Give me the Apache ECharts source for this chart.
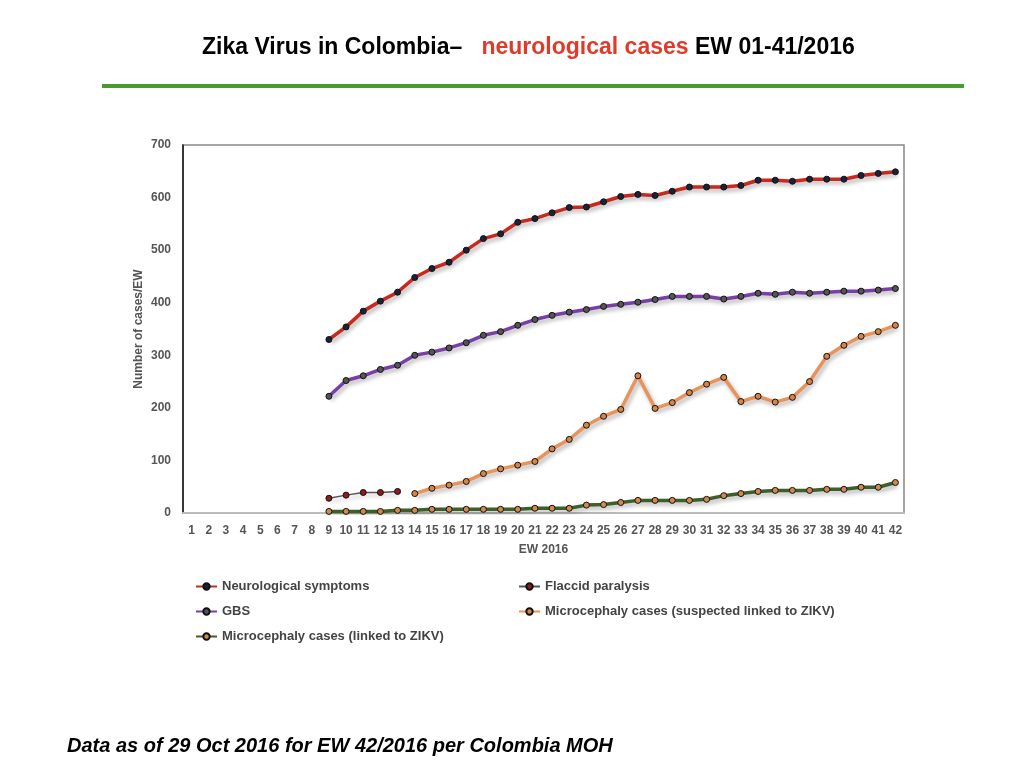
<!DOCTYPE html>
<html>
<head>
<meta charset="utf-8">
<script src="https://cdn.jsdelivr.net/npm/echarts@6/dist/echarts.min.js"></script>
<style>
  html, body { margin: 0; padding: 0; background: #fff; }
  #main { width: 1024px; height: 768px; }
</style>
</head>
<body>
<div id="main"></div>
<script>
// epidemiological weeks 1..42
var weeks = [];
for (var w = 1; w <= 42; w++) weeks.push(String(w));

var yTicks = [0, 100, 200, 300, 400, 500, 600, 700];

// weeks 1-8 have no data
var neuroSymptoms = [null, null, null, null, null, null, null, null,
    330, 354, 384, 403, 420, 448, 465, 477, 500, 522, 531, 553, 560,
    571, 581, 582, 592, 602, 606, 604, 612, 620, 620, 620, 623, 633,
    633, 631, 635, 635, 635, 642, 646, 649];

var flaccidParalysis = [null, null, null, null, null, null, null, null,
    28, 34, 39, 39, 41];

var gbs = [null, null, null, null, null, null, null, null,
    222, 252, 261, 273, 281, 300, 306, 314, 324, 338, 345, 357, 368,
    376, 382, 387, 393, 397, 401, 406, 412, 412, 412, 407, 412, 418,
    416, 420, 418, 420, 422, 422, 424, 427];

var microSuspected = [null, null, null, null, null, null, null, null,
    null, null, null, null, null,
    37, 47, 53, 60, 75, 84, 91, 98,
    122, 140, 167, 184, 197, 261, 199, 210, 229, 245, 258, 212, 222,
    211, 220, 250, 298, 319, 336, 345, 357];

var microLinked = [null, null, null, null, null, null, null, null,
    3, 3, 3, 3, 5, 5, 7, 7, 7, 7, 7, 7, 9,
    9, 9, 15, 16, 20, 24, 24, 24, 24, 26, 33, 37, 41,
    43, 43, 43, 45, 45, 49, 49, 58];

var chart = echarts.init(document.getElementById('main'));

function make_line(name, data, lineColor, dotColor, width){
    return {
        name: name,
        type: 'line',
        data: data,
        connectNulls: false,
        symbol: 'circle',
        symbolSize: 6,
        itemStyle: {
            color: dotColor,
            borderColor: '#111',
            borderWidth: 1
        },
        lineStyle: {
            color: lineColor,
            width: width,
            shadowColor: 'rgba(0,0,0,0.3)',
            shadowBlur: 4,
            shadowOffsetX: 2,
            shadowOffsetY: 3
        },
        emphasis: { disabled: true },
        animation: false
    };
}

var legendText = { color: '#444', fontSize: 13, fontWeight: 'bold', fontFamily: 'Liberation Sans', lineHeight: 15 };

var option = {
    backgroundColor: '#fff',
    title: [{
        text: '{b|Zika Virus in Colombia\u2013   }{r|neurological cases}{b| EW 01-41/2016}',
        left: 197,
        top: 31,
        textStyle: {
            rich: {
                b: { color: '#000', fontSize: 23, fontWeight: 'bold', fontFamily: 'Liberation Sans' },
                r: { color: '#e03a28', fontSize: 23, fontWeight: 'bold', fontFamily: 'Liberation Sans' }
            }
        }
    }, {
        text: 'Data as of 29 Oct 2016 for EW 42/2016 per Colombia MOH',
        left: 62,
        top: 731,
        textStyle: {
            color: '#000', fontSize: 20, fontWeight: 'bold', fontStyle: 'italic',
            fontFamily: 'Liberation Sans'
        }
    }],
    graphic: [{
        type: 'line',
        shape: { x1: 102, y1: 86, x2: 964, y2: 86 },
        style: { stroke: '#4a9a32', lineWidth: 4 }
    }],
    legend: [{
        orient: 'vertical',
        left: 195,
        top: 579,
        padding: 0,
        itemGap: 10,
        itemWidth: 21,
        itemHeight: 8,
        textStyle: legendText,
        data: ['Neurological symptoms', 'GBS', 'Microcephaly cases (linked to ZIKV)']
    }, {
        orient: 'vertical',
        left: 518,
        top: 579,
        padding: 0,
        itemGap: 10,
        itemWidth: 21,
        itemHeight: 8,
        textStyle: legendText,
        data: ['Flaccid paralysis', 'Microcephaly cases (suspected linked to ZIKV)']
    }],
    grid: {
        left: 183,
        right: 120,
        top: 145,
        height: 368,
        show: true,
        borderColor: '#888',
        borderWidth: 1.5
    },
    xAxis: {
        type: 'category',
        data: weeks,
        boundaryGap: true,
        name: 'EW 2016',
        nameLocation: 'middle',
        nameGap: 31,
        nameTextStyle: { color: '#555', fontSize: 12, fontWeight: 'bold', fontFamily: 'Liberation Sans' },
        axisLine: { lineStyle: { color: '#bbb', width: 2 } },
        axisTick: { show: false },
        axisLabel: { interval: 0, color: '#555', fontSize: 12, fontWeight: 'bold', fontFamily: 'Liberation Sans', margin: 12 }
    },
    yAxis: {
        type: 'value',
        min: yTicks[0],
        max: yTicks[yTicks.length - 1],
        interval: 100,
        name: 'Number of cases/EW',
        nameLocation: 'middle',
        nameGap: 38,
        nameMoveOverlap: false,
        nameTextStyle: { color: '#555', fontSize: 12, fontWeight: 'bold', fontFamily: 'Liberation Sans' },
        axisLine: { show: true, lineStyle: { color: '#111', width: 1.5 } },
        axisTick: { show: false },
        splitLine: { show: false },
        axisLabel: { color: '#555', fontSize: 12, fontWeight: 'bold', fontFamily: 'Liberation Sans', margin: 12 }
    },
    animation: false,
    series: [
        make_line('Neurological symptoms', neuroSymptoms, '#c8281e', '#18223a', 3.5),
        make_line('Flaccid paralysis', flaccidParalysis, '#555555', '#8e1c1c', 1.5),
        make_line('GBS', gbs, '#7a3fa6', '#555555', 3.5),
        make_line('Microcephaly cases (suspected linked to ZIKV)', microSuspected, '#e8935a', '#d68544', 3.5),
        make_line('Microcephaly cases (linked to ZIKV)', microLinked, '#3e5e2a', '#d08a4a', 3.5)
    ]
};

chart.setOption(option);
</script>
</body>
</html>
